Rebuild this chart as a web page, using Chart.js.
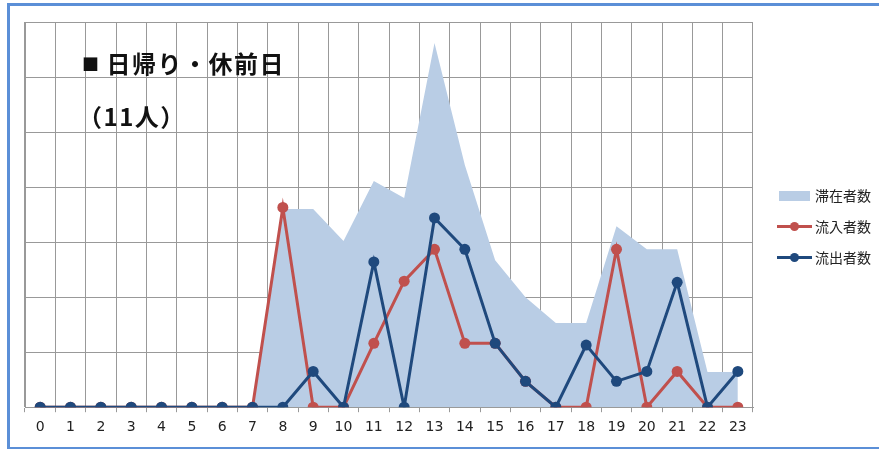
<!DOCTYPE html>
<html>
<head>
<meta charset="utf-8">
<script src="https://cdn.jsdelivr.net/npm/chart.js@4.4.1/dist/chart.umd.min.js"></script>
<style>
  html, body { margin: 0; padding: 0; background: #fff; }
  #wrap { position: relative; width: 879px; height: 449px; overflow: hidden; }
  #frame { position: absolute; left: 7px; top: 3px; width: 900px; height: 441px; border: 3px solid #5b8fd7; box-sizing: content-box; }
  #chart { position: absolute; left: 0; top: 0; }
  .ttl { position: absolute; font-family: "Noto Sans CJK JP", sans-serif; font-weight: bold; font-size: 24px; letter-spacing: 1.5px; color: #111; white-space: nowrap; line-height: 1; }
  .ttl .sq { font-size: 17px; vertical-align: 2px; margin-right: 6px; }
  #legend { position: absolute; left: 776px; top: 186px; font-family: "Noto Sans CJK JP", sans-serif; font-size: 14px; color: #222; }
  .lg { position: relative; height: 31px; }
  .lg .sw { position: absolute; left: 3px; top: 5px; width: 31px; height: 10px; }
  .lg .ln { position: absolute; left: 1px; top: 8px; width: 35px; height: 3px; }
  .lg .dot { position: absolute; left: 14px; top: 5px; width: 9px; height: 9px; border-radius: 50%; }
  .lg span { position: absolute; left: 39px; top: -1px; white-space: nowrap; }
</style>
</head>
<body>
<div id="wrap">
  <canvas id="chart" width="879" height="449"></canvas>
  <div id="frame"></div>
  <div class="ttl" style="left:82px; top:51px;"><span class="sq">■</span>日帰り・休前日</div>
  <div class="ttl" style="left:78px; top:104px;">（11人）</div>
  <div id="legend"></div>
</div>
<script>
    'use strict';

    // hour of day
    var hours = ['0', '1', '2', '3', '4', '5', '6', '7', '8', '9', '10', '11',
        '12', '13', '14', '15', '16', '17', '18', '19', '20', '21', '22', '23'];

    var seriesNames = ['滞在者数', '流入者数', '流出者数'];

    var stayValues = [0, 0, 0, 0, 0, 0, 0, 0, 3.6, 3.6, 3.02, 4.11,
        3.8, 6.62, 4.4, 2.67, 2.0, 1.53, 1.53, 3.29, 2.87, 2.87, 0.64, 0.64];
    var inflowValues = [0, 0, 0, 0, 0, 0, 0, 0, 3.63, 0, 0, 1.16,
        2.29, 2.87, 1.16, 1.16, 0.47, 0, 0, 2.87, 0, 0.65, 0, 0];
    var outflowValues = [0, 0, 0, 0, 0, 0, 0, 0, 0, 0.65, 0, 2.64,
        0, 3.44, 2.87, 1.16, 0.47, 0, 1.13, 0.47, 0.65, 2.27, 0, 0.65];

    var colors = ['#b9cde5', '#c0504d', '#1f497d'];
    var gridColor = '#999999';

    var ctx = document.getElementById('chart');
    var chart = new Chart(ctx, {
        type: 'line',
        data: {
            labels: hours,
            datasets: [{
                label: seriesNames[0],
                data: stayValues,
                backgroundColor: colors[0],
                borderWidth: 0,
                borderColor: colors[0],
                fill: 'origin',
                pointRadius: 0,
                tension: 0,
                order: 3
            }, {
                label: seriesNames[1],
                data: inflowValues,
                borderColor: colors[1],
                backgroundColor: colors[1],
                borderWidth: 3,
                pointRadius: 5.5,
                pointBorderWidth: 0,
                fill: false,
                tension: 0,
                order: 2
            }, {
                label: seriesNames[2],
                data: outflowValues,
                borderColor: colors[2],
                backgroundColor: colors[2],
                borderWidth: 3,
                pointRadius: 5.5,
                pointBorderWidth: 0,
                fill: false,
                tension: 0,
                order: 1
            }]
        },
        options: {
            responsive: false,
            animation: false,
            layout: { padding: { left: 25, right: 126, top: 22, bottom: 6 } },
            plugins: {
                legend: { display: false },
                tooltip: { enabled: false }
            },
            scales: {
                x: {
                    offset: true,
                    grid: { offset: true, color: gridColor, lineWidth: 1, tickLength: 5 },
                    border: { color: gridColor },
                    ticks: {
                        color: '#222',
                        padding: 7,
                        maxRotation: 0,
                        autoSkip: false,
                        font: { family: 'DejaVu Sans', size: 14 }
                    }
                },
                y: {
                    min: 0,
                    max: 7,
                    grid: { color: gridColor, lineWidth: 1, drawTicks: false },
                    border: { color: gridColor },
                    ticks: { display: false, stepSize: 1 }
                }
            }
        }
    });

    // legend
    var legend = document.getElementById('legend');
    chart.data.datasets.forEach(function (ds, i) {
        var row = document.createElement('div');
        row.className = 'lg';
        var mark;
        if (i === 0) {
            mark = '<div class="sw" style="background:' + colors[i] + '"></div>';
        } else {
            mark = '<div class="ln" style="background:' + colors[i] + '"></div>' +
                '<div class="dot" style="background:' + colors[i] + '"></div>';
        }
        row.innerHTML = mark + '<span>' + ds.label + '</span>';
        legend.appendChild(row);
    });
</script>
</body>
</html>
